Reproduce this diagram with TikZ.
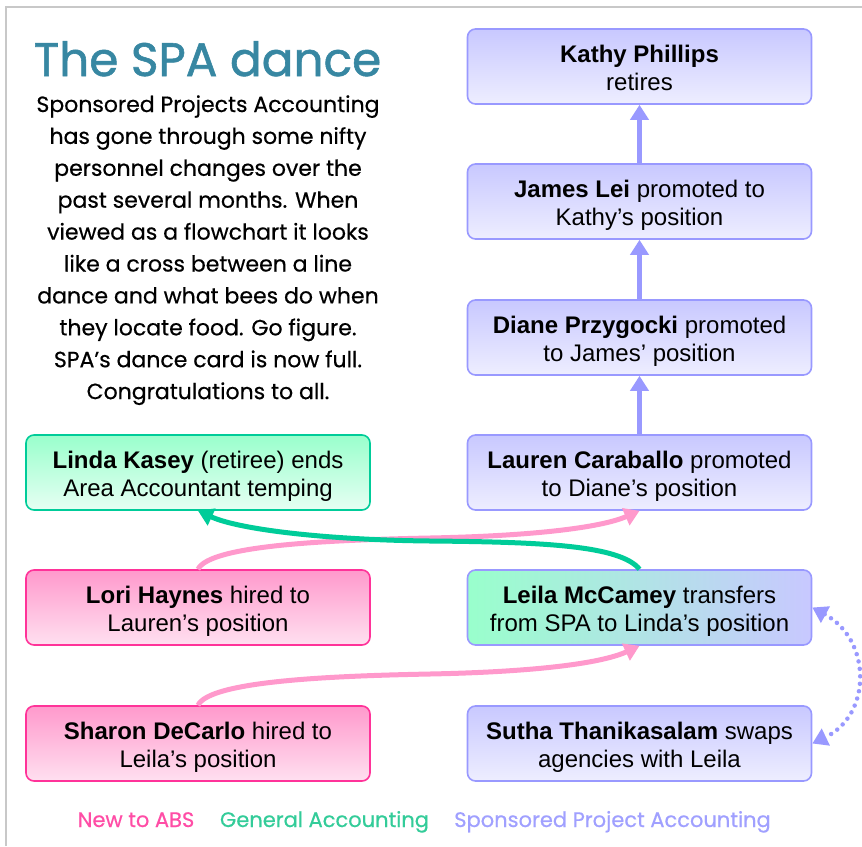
\documentclass[tikz,border=0pt]{standalone}
\usepackage{fontspec}
\setmainfont{Liberation Sans}
\newfontfamily\gothic{Poppins}[FakeBold=0.5]
\newfontfamily\gothictitle{Poppins}[FakeBold=1.2]
\usetikzlibrary{arrows.meta,calc}
\definecolor{framec}{HTML}{C8C8C8}
\definecolor{titlec}{HTML}{3787A2}
\definecolor{bluetop}{HTML}{C8C8FF}
\definecolor{bluebot}{HTML}{EEEEFF}
\definecolor{blueedge}{HTML}{9999FF}
\definecolor{greentop}{HTML}{99FFCC}
\definecolor{greenbot}{HTML}{E6FFF3}
\definecolor{greenedge}{HTML}{00CC99}
\definecolor{pinktop}{HTML}{FF99CC}
\definecolor{pinkbot}{HTML}{FFE0F0}
\definecolor{pinkedge}{HTML}{FF3399}
\definecolor{pinkline}{HTML}{FF99CC}
\definecolor{greenline}{HTML}{00CC99}
\definecolor{legpink}{HTML}{FF4DA6}
\definecolor{leggreen}{HTML}{33CC99}
\definecolor{legblue}{HTML}{A0A0FF}
\newcommand\bxt[2]{\rule{0pt}{26pt}#1\\#2\rule[-6pt]{0pt}{0pt}}
\begin{document}
\begin{tikzpicture}[x=1pt,y=-1pt,
  card/.style={rounded corners=8pt, minimum width=344pt, minimum height=75pt,
    inner sep=0pt, line width=1.6pt, align=center,
    font=\fontsize{24}{28}\selectfont},
  bluebox/.style={card, draw=blueedge, top color=bluetop, bottom color=bluebot},
  greenbox/.style={card, draw=greenedge, top color=greentop, bottom color=greenbot},
  pinkbox/.style={card, draw=pinkedge, top color=pinktop, bottom color=pinkbot},
  mixbox/.style={card, draw=blueedge, left color=greentop, right color=bluetop},
  vup/.style={draw=blueedge, line width=5pt, -{Triangle[width=18pt,length=15pt]}},
  pinkarrow/.style={draw=pinkline, line width=5pt, -{Triangle[width=18pt,length=15pt]}},
  greenarrow/.style={draw=greenline, line width=5pt, -{Triangle[width=18pt,length=15pt]}},
  dotarrow/.style={draw=blueedge, line width=4.5pt, line cap=round, dash pattern=on 0pt off 7.5pt,
    {Triangle[width=18pt,length=15pt]}-{Triangle[width=18pt,length=15pt]}},
  desc/.style={font=\gothic\fontsize{22}{22}\selectfont, anchor=base, inner sep=0pt},
  legend/.style={font=\gothic\fontsize{21}{21}\selectfont, anchor=base, inner sep=0pt}]
\useasboundingbox (0,0) rectangle (862,846);
\fill[white] (0,0) rectangle (862,846);
\draw[framec, line width=2pt] (6,846) -- (6,7) -- (862,7);

\node[font=\gothictitle\fontsize{47}{47}\selectfont, text=titlec, anchor=base, inner sep=0pt] (title) at (207.5,76) {The SPA dance};
\foreach \t [count=\i] in {Sponsored Projects Accounting, has gone through some nifty, personnel changes over the, past several months. When, viewed as a flowchart it looks, like a cross between a line, dance and what bees do when, they locate food. Go figure., SPA’s dance card is now full., Congratulations to all.}
  \node[desc] (d\i) at (208,{112+(\i-1)*31.9}) {\t};

\node[bluebox] (kathy) at (639.5,66.5) {\bxt{\textbf{Kathy Phillips}}{retires}};
\node[bluebox] (james) at (639.5,201.5) {\bxt{\textbf{James Lei} promoted to}{Kathy’s position}};
\node[bluebox] (diane) at (639.5,337.5) {\bxt{\textbf{Diane Przygocki} promoted}{to James’ position}};
\node[bluebox] (lauren) at (639.5,472.5) {\bxt{\textbf{Lauren Caraballo} promoted}{to Diane’s position}};
\node[mixbox] (leila) at (639.5,607.5) {\bxt{\textbf{Leila McCamey} transfers}{from SPA to Linda’s position}};
\node[bluebox] (sutha) at (639.5,743.5) {\bxt{\textbf{Sutha Thanikasalam} swaps}{agencies with Leila}};
\node[greenbox] (linda) at (198,472.5) {\bxt{\textbf{Linda Kasey} (retiree) ends}{Area Accountant temping}};
\node[pinkbox] (lori) at (198,607.5) {\bxt{\textbf{Lori Haynes} hired to}{Lauren’s position}};
\node[pinkbox] (sharon) at (198,743.5) {\bxt{\textbf{Sharon DeCarlo} hired to}{Leila’s position}};

\draw[vup] (james.north) -- (kathy.south);
\draw[vup] (diane.north) -- (james.south);
\draw[vup] (lauren.north) -- (diane.south);

\draw[pinkarrow] (lori.north) .. controls (210,545) and (330,540) .. (430,538) .. controls (530,536) and (600,528) .. (lauren.south);
\draw[pinkarrow] (sharon.north) .. controls (210,681) and (330,676) .. (430,674) .. controls (530,672) and (600,664) .. (leila.south);
\draw[greenarrow] (leila.north) .. controls (620,545) and (540,542) .. (430,541) .. controls (330,540) and (240,530) .. (linda.south);
\draw[dotarrow] (leila.east) .. controls (872,640) and (872,715) .. (sutha.east);

\node[legend, text=legpink] (lnew) at (136,827) {New to ABS};
\node[legend, text=leggreen] (lga) at (324.5,827) {General Accounting};
\node[legend, text=legblue] (lspa) at (612.5,827) {Sponsored Project Accounting};
\end{tikzpicture}
\end{document}
